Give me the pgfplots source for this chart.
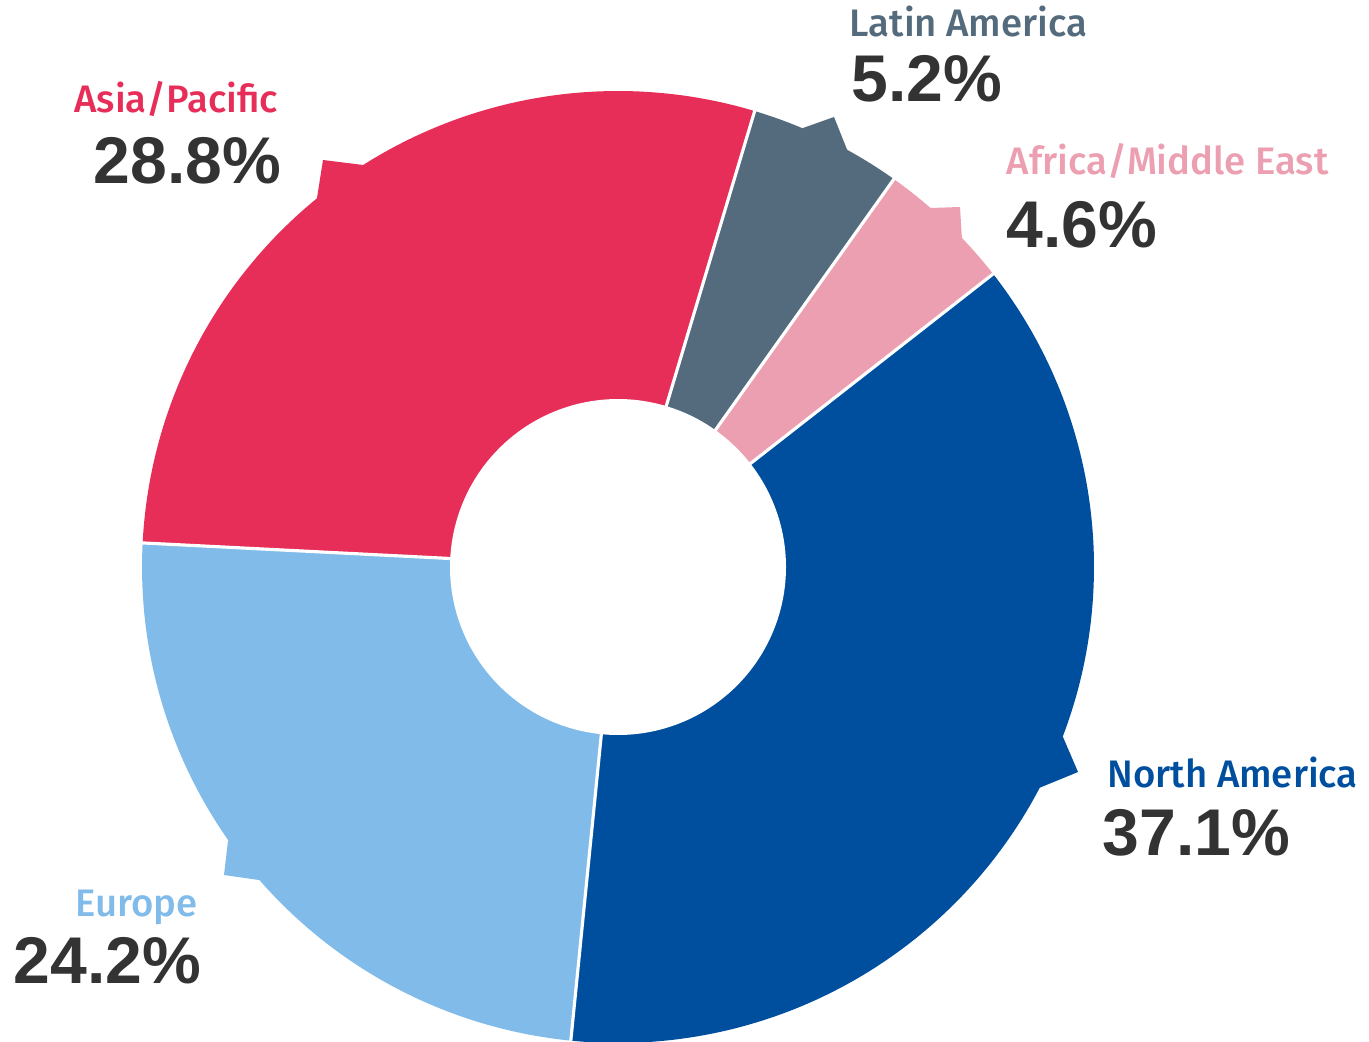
\documentclass[border=0pt]{standalone}
\usepackage{fontspec}
\setmainfont{Liberation Sans}
\newfontfamily\labelfont{Fira Sans Medium}
\usepackage{pgfplots}
\pgfplotsset{compat=1.18}
\definecolor{cNA}{HTML}{004F9F}
\definecolor{cEU}{HTML}{80BBEA}
\definecolor{cAP}{HTML}{E62E58}
\definecolor{cLA}{HTML}{536B7D}
\definecolor{cAF}{HTML}{EB9FB0}
\definecolor{cNum}{HTML}{333333}
% shares (percent)
\def\pNA{37.1}
\def\pEU{24.2}
\def\pAP{28.8}
\def\pLA{5.2}
\def\pAF{4.6}
\pgfmathsetmacro{\tot}{\pNA+\pEU+\pAP+\pLA+\pAF}
\pgfmathsetmacro{\aA}{38}
\pgfmathsetmacro{\aB}{\aA-\pNA*360/\tot}
\pgfmathsetmacro{\aC}{\aB-\pEU*360/\tot}
\pgfmathsetmacro{\aD}{\aC-\pAP*360/\tot}
\pgfmathsetmacro{\aE}{\aD-\pLA*360/\tot}
\pgfmathsetmacro{\aF}{\aE-\pAF*360/\tot}
\def\cx{618}
\def\cy{474}
\def\R{476}
\def\r{168}
\begin{document}
\begin{tikzpicture}
\begin{axis}[
  width=13.69cm, height=10.41cm, scale only axis,
  xmin=0, xmax=1369, ymin=0, ymax=1041,
  hide axis, clip=true,
]
% wedges
\addplot[fill=cNA, draw=none, domain=\aB:\aA, samples=150, variable=\t] ({\cx+\R*cos(\t)},{\cy+\R*sin(\t)}) -- (axis cs:\cx,\cy) -- cycle;
\addplot[fill=cEU, draw=none, domain=\aC:\aB, samples=120, variable=\t] ({\cx+\R*cos(\t)},{\cy+\R*sin(\t)}) -- (axis cs:\cx,\cy) -- cycle;
\addplot[fill=cAP, draw=none, domain=\aD:\aC, samples=120, variable=\t] ({\cx+\R*cos(\t)},{\cy+\R*sin(\t)}) -- (axis cs:\cx,\cy) -- cycle;
\addplot[fill=cLA, draw=none, domain=\aE:\aD, samples=40, variable=\t] ({\cx+\R*cos(\t)},{\cy+\R*sin(\t)}) -- (axis cs:\cx,\cy) -- cycle;
\addplot[fill=cAF, draw=none, domain=\aF:\aE, samples=40, variable=\t] ({\cx+\R*cos(\t)},{\cy+\R*sin(\t)}) -- (axis cs:\cx,\cy) -- cycle;
% edge protrusions
\addplot[fill=cAP, draw=none] coordinates {(317,843) (323,881) (363,876) (340,811)} -- cycle;
\addplot[fill=cEU, draw=none] coordinates {(228,200) (224,166) (259,161) (260,221)} -- cycle;
\addplot[fill=cNA, draw=none] coordinates {(1063,304) (1078,269) (1039,253) (1030,301)} -- cycle;
\addplot[fill=cLA, draw=none] coordinates {(803,913) (834,924) (848,889) (815,871)} -- cycle;
\addplot[fill=cAF, draw=none] coordinates {(930,833) (960,834) (962,801) (935,801)} -- cycle;
% hole
\addplot[fill=white, draw=none, domain=0:360, samples=200] ({\cx+\r*cos(x)},{\cy+\r*sin(x)}) -- cycle;
% separators
\addplot[white, line width=0.9pt, domain=150:490, samples=2] ({\cx+x*cos(\aA)},{\cy+x*sin(\aA)});
\addplot[white, line width=0.9pt, domain=150:490, samples=2] ({\cx+x*cos(\aB)},{\cy+x*sin(\aB)});
\addplot[white, line width=0.9pt, domain=150:490, samples=2] ({\cx+x*cos(\aC)},{\cy+x*sin(\aC)});
\addplot[white, line width=0.9pt, domain=150:490, samples=2] ({\cx+x*cos(\aD)},{\cy+x*sin(\aD)});
\addplot[white, line width=0.9pt, domain=150:490, samples=2] ({\cx+x*cos(\aE)},{\cy+x*sin(\aE)});
% labels
\node[anchor=base west, inner sep=0, text=cNA, font=\labelfont\fontsize{10.9}{12}\selectfont] at (axis cs:1107,254) {North America};
\node[anchor=base west, inner sep=0, text=cNum, font=\bfseries\fontsize{18.8}{20}\selectfont] at (axis cs:1102,186) {37.1\%};
\node[anchor=base east, inner sep=0, text=cAP, font=\labelfont\fontsize{10.9}{12}\selectfont] at (axis cs:279,929) {Asia/Pacific};
\node[anchor=base east, inner sep=0, text=cNum, font=\bfseries\fontsize{18.8}{20}\selectfont] at (axis cs:282,858) {28.8\%};
\node[anchor=base west, inner sep=0, text=cLA, font=\labelfont\fontsize{10.9}{12}\selectfont] at (axis cs:849,1004) {Latin America};
\node[anchor=base west, inner sep=0, text=cNum, font=\bfseries\fontsize{18.8}{20}\selectfont] at (axis cs:851,939) {5.2\%};
\node[anchor=base west, inner sep=0, text=cAF, font=\labelfont\fontsize{10.9}{12}\selectfont] at (axis cs:1006,867) {Africa/Middle East};
\node[anchor=base west, inner sep=0, text=cNum, font=\bfseries\fontsize{18.8}{20}\selectfont] at (axis cs:1006,794) {4.6\%};
\node[anchor=base east, inner sep=0, text=cEU, font=\labelfont\fontsize{10.9}{12}\selectfont] at (axis cs:198,125) {Europe};
\node[anchor=base east, inner sep=0, text=cNum, font=\bfseries\fontsize{18.8}{20}\selectfont] at (axis cs:202,58) {24.2\%};
\end{axis}
\pgfresetboundingbox
\path (current axis.south west) rectangle (current axis.north east);
\end{tikzpicture}
\end{document}
